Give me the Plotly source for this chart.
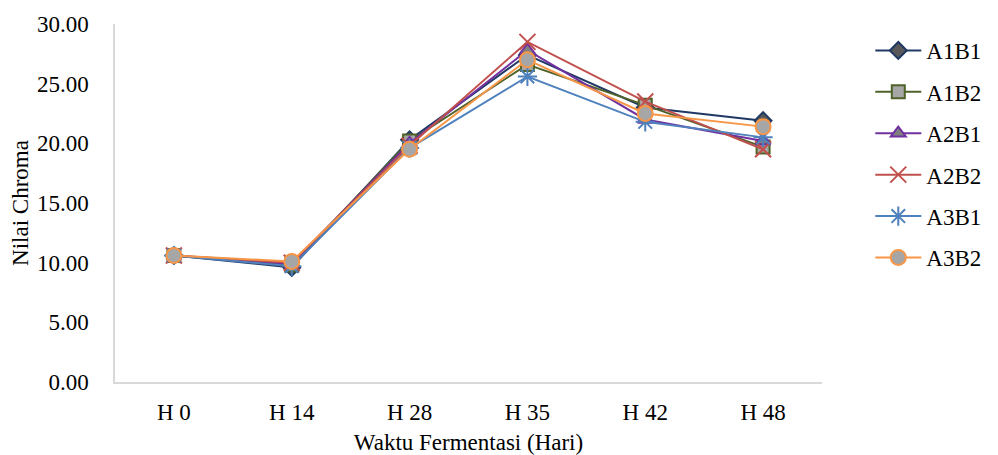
import plotly.graph_objects as go

categories = ["H 0", "H 14", "H 28", "H 35", "H 42", "H 48"]
A1B1 = [10.6, 9.6, 20.3, 27.4, 23.0, 21.9]
A1B2 = [10.6, 9.8, 20.2, 26.6, 23.2, 19.7]
A2B1 = [10.6, 9.9, 20.0, 27.8, 22.0, 20.2]
A2B2 = [10.6, 10.0, 19.8, 28.5, 23.5, 19.5]
A3B1 = [10.6, 9.7, 19.6, 25.6, 21.8, 20.5]
A3B2 = [10.6, 10.1, 19.5, 27.0, 22.5, 21.4]

series = [
    ("A1B1", A1B1, "#1F3864", "diamond", "#595959", 13),
    ("A1B2", A1B2, "#4F6228", "square", "#A6A6A6", 13),
    ("A2B1", A2B1, "#7030A0", "triangle-up", "#808080", 13),
    ("A2B2", A2B2, "#C0504D", "x-thin-open", "#C0504D", 16),
    ("A3B1", A3B1, "#4F81BD", "asterisk-open", "#4F81BD", 16),
    ("A3B2", A3B2, "#F79646", "circle", "#A6A6A6", 15),
]

font = "Liberation Serif, Times New Roman, serif"
FS = 23
fig = go.Figure()
for i, (name, vals, color, sym, fill, size) in enumerate(series):
    fig.add_trace(go.Scatter(
        x=categories, y=vals, name=name, mode="lines+markers",
        line=dict(color=color, width=2),
        marker=dict(symbol=sym, size=size, color=fill,
                    line=dict(color=color, width=2)),
        legendgroup=name,
    ))

fig.update_layout(
    width=990, height=447,
    margin=dict(l=107, r=176, t=16, b=73, autoexpand=False),
    paper_bgcolor="white", plot_bgcolor="white",
    font=dict(family=font, size=FS, color="#000000"),
    showlegend=True,
    legend=dict(x=0.871, y=0.986, xref="container", xanchor="left", yanchor="top",
                font=dict(family=font, size=FS), itemwidth=46,
                bgcolor="rgba(0,0,0,0)",
                traceorder="grouped", tracegroupgap=8.5),
    xaxis=dict(
        title=dict(text="Waktu Fermentasi (Hari)", font=dict(family=font, size=FS), standoff=11),
        range=[-0.5, 5.5],
        showline=True, linecolor="#D9D9D9", linewidth=1.5,
        showgrid=False, zeroline=False, ticks="",
        tickfont=dict(family=font, size=FS),
        ticklabelstandoff=9, automargin=False,
    ),
    yaxis=dict(
        title=dict(text="Nilai Chroma", font=dict(family=font, size=FS), standoff=5),
        range=[0, 30], tickvals=[0, 5, 10, 15, 20, 25, 30],
        tickformat=".2f",
        showline=True, linecolor="#D9D9D9", linewidth=1.5,
        showgrid=False, zeroline=False, ticks="",
        tickfont=dict(family=font, size=FS),
        ticklabelstandoff=20, automargin=False,
    ),
)

fig.write_html("out.html")
